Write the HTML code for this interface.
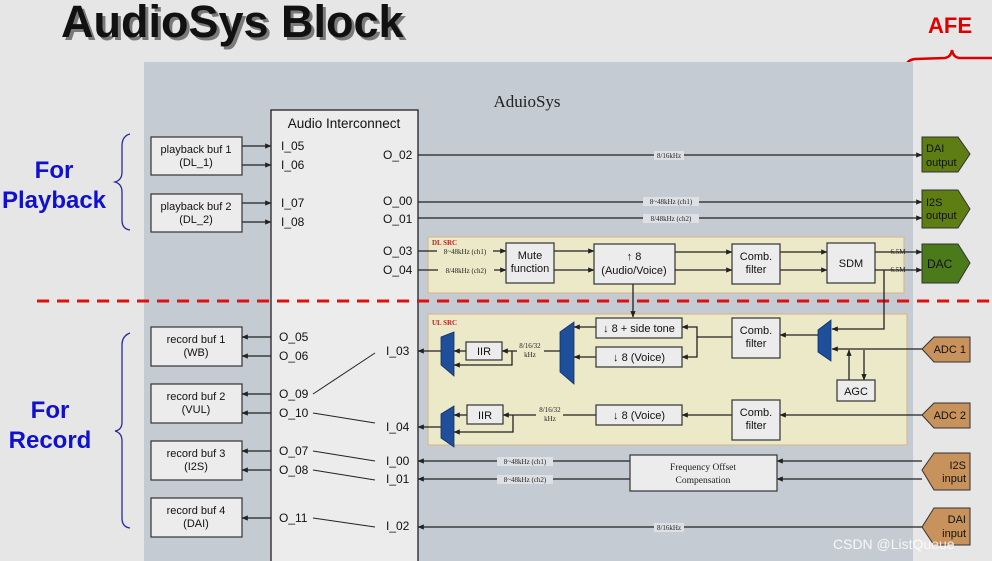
<!DOCTYPE html>
<html><head><meta charset="utf-8"><style>
html,body{margin:0;padding:0;background:#e6e6e6;}
svg{display:block;}
.s{font-family:"Liberation Sans",sans-serif;fill:#111;}
.r{font-family:"Liberation Serif",serif;fill:#222;}
</style></head><body>
<svg width="992" height="561" viewBox="0 0 992 561" xmlns="http://www.w3.org/2000/svg">
<defs>
<marker id="a" viewBox="0 0 10 10" refX="9" refY="5" markerWidth="5" markerHeight="5" orient="auto"><path d="M0,1 L10,5 L0,9 z" fill="#222"/></marker>
</defs>
<rect width="992" height="561" fill="#e6e6e6"/>
<text x="64" y="40" class="s" font-size="45" font-weight="bold" fill="#555" opacity="0.5">AudioSys Block</text>
<text x="61" y="37" class="s" font-size="45" font-weight="bold" fill="#111">AudioSys Block</text>
<text x="928" y="33" class="s" font-size="22" font-weight="bold" fill="#e00000" style="fill:#e00000">AFE</text>
<path d="M906,68 Q906,60 915,59 L945,58 Q951,57 952,50 Q953,57 959,58 L992,58" fill="none" stroke="#d00" stroke-width="2.5"/>
<rect x="144" y="62" width="769" height="499" fill="#c4cbd3"/>
<text x="527" y="107" class="r" font-size="17" text-anchor="middle">AduioSys</text>
<rect x="271" y="110" width="147" height="460" fill="#ececec" stroke="#222" stroke-width="1.3"/>
<text x="344" y="128" class="s" font-size="13.5" text-anchor="middle">Audio Interconnect</text>
<g class="s" font-size="24" font-weight="bold" text-anchor="middle">
<text x="54" y="178" style="fill:#1010d0">For</text><text x="54" y="208" style="fill:#1010d0">Playback</text>
<text x="50" y="418" style="fill:#1010d0">For</text><text x="50" y="448" style="fill:#1010d0">Record</text>
</g>
<g fill="none" stroke="#2a2aa0" stroke-width="1.3">
<path d="M130,134 Q122,136 122,146 L122,172 Q122,180 115,182 Q122,184 122,192 L122,220 Q122,229 130,230"/>
<path d="M130,333 Q122,336 122,345 L122,422 Q122,430 115,431 Q122,433 122,441 L122,518 Q122,527 130,528"/>
</g>
<g fill="#ececec" stroke="#333" stroke-width="1.2">
<rect x="151" y="137" width="91" height="38"/><rect x="151" y="194" width="91" height="38"/>
<rect x="151" y="327" width="91" height="39"/><rect x="151" y="384" width="91" height="39"/>
<rect x="151" y="441" width="91" height="39"/><rect x="151" y="498" width="91" height="39"/>
</g>
<g class="s" font-size="11" text-anchor="middle">
<text x="196" y="153">playback buf 1</text><text x="196" y="166">(DL_1)</text>
<text x="196" y="210">playback buf 2</text><text x="196" y="223">(DL_2)</text>
<text x="196" y="343">record buf 1</text><text x="196" y="356">(WB)</text>
<text x="196" y="400">record buf 2</text><text x="196" y="413">(VUL)</text>
<text x="196" y="457">record buf 3</text><text x="196" y="470">(I2S)</text>
<text x="196" y="514">record buf 4</text><text x="196" y="527">(DAI)</text>
</g>
<g stroke="#222" stroke-width="1.3" marker-end="url(#a)">
<line x1="242" y1="146" x2="271" y2="146"/><line x1="242" y1="165" x2="271" y2="165"/>
<line x1="242" y1="203" x2="271" y2="203"/><line x1="242" y1="222" x2="271" y2="222"/>
<line x1="271" y1="337" x2="242" y2="337"/><line x1="271" y1="356" x2="242" y2="356"/>
<line x1="271" y1="394" x2="242" y2="394"/><line x1="271" y1="413" x2="242" y2="413"/>
<line x1="271" y1="451" x2="242" y2="451"/><line x1="271" y1="470" x2="242" y2="470"/>
<line x1="271" y1="518" x2="242" y2="518"/>
</g>
<g class="s" font-size="12">
<text x="281" y="150">I_05</text><text x="281" y="169">I_06</text><text x="281" y="207">I_07</text><text x="281" y="226">I_08</text>
<text x="279" y="341">O_05</text><text x="279" y="360">O_06</text><text x="279" y="398">O_09</text><text x="279" y="417">O_10</text>
<text x="279" y="455">O_07</text><text x="279" y="474">O_08</text><text x="279" y="522">O_11</text>
<text x="383" y="159">O_02</text><text x="383" y="205">O_00</text><text x="383" y="223">O_01</text>
<text x="383" y="255">O_03</text><text x="383" y="274">O_04</text>
<text x="386" y="355">I_03</text><text x="386" y="431">I_04</text><text x="386" y="465">I_00</text><text x="386" y="483">I_01</text><text x="386" y="530">I_02</text>
</g>
<g stroke="#222" stroke-width="1">
<line x1="313" y1="394" x2="375" y2="353"/><line x1="313" y1="413" x2="375" y2="423"/>
<line x1="313" y1="451" x2="375" y2="461"/><line x1="313" y1="470" x2="375" y2="480"/>
<line x1="313" y1="518" x2="375" y2="527"/>
</g>
<rect x="428" y="237" width="476" height="56" fill="#ece9c8" stroke="#d9b890" stroke-width="1.2"/>
<rect x="428" y="314" width="479" height="131" fill="#ece9c8" stroke="#d9b890" stroke-width="1.2"/>
<text x="432" y="245" class="r" font-size="7" font-weight="bold" style="fill:#c02020">DL SRC</text>
<text x="432" y="325" class="r" font-size="7" font-weight="bold" style="fill:#c02020">UL SRC</text>
<line x1="37" y1="301" x2="992" y2="301" stroke="#e01010" stroke-width="3" stroke-dasharray="12,8"/>
<g stroke="#222" stroke-width="1.3" marker-end="url(#a)" fill="none">
<line x1="418" y1="155" x2="922" y2="155"/>
<line x1="418" y1="202" x2="922" y2="202"/><line x1="418" y1="218" x2="922" y2="218"/>
<line x1="418" y1="251" x2="506" y2="251"/><line x1="418" y1="270" x2="506" y2="270"/>
<line x1="554" y1="251" x2="594" y2="251"/><line x1="554" y1="270" x2="594" y2="270"/>
<line x1="675" y1="252" x2="732" y2="252"/><line x1="675" y1="270" x2="732" y2="270"/>
<line x1="780" y1="252" x2="827" y2="252"/><line x1="780" y1="270" x2="827" y2="270"/>
<line x1="875" y1="252" x2="922" y2="252"/><line x1="875" y1="270" x2="922" y2="270"/>
<line x1="633" y1="282" x2="633" y2="317"/>
<path d="M884,270 L884,329 L832,329"/>
<line x1="922" y1="349" x2="832" y2="349"/>
<line x1="818" y1="335" x2="780" y2="335"/>
<path d="M732,337 L697,337 L697,327 L682,327"/>
<path d="M697,337 L697,357 L682,357"/>
<line x1="596" y1="327" x2="574" y2="327"/><line x1="596" y1="357" x2="574" y2="357"/>
<line x1="560" y1="351" x2="502" y2="351"/>
<path d="M512,351 L512,365 L454,365"/>
<line x1="466" y1="351" x2="454" y2="351"/>
<line x1="441" y1="351" x2="418" y2="351"/>
<line x1="849" y1="380" x2="849" y2="350"/><line x1="864" y1="350" x2="864" y2="380"/>
<line x1="922" y1="415" x2="780" y2="415"/>
<line x1="732" y1="415" x2="682" y2="415"/>
<line x1="596" y1="415" x2="503" y2="415"/>
<path d="M513,415 L513,432 L454,432"/>
<line x1="467" y1="415" x2="454" y2="415"/>
<line x1="441" y1="427" x2="418" y2="427"/>
<line x1="922" y1="461" x2="777" y2="461"/><line x1="922" y1="479" x2="777" y2="479"/>
<line x1="630" y1="461" x2="418" y2="461"/><line x1="630" y1="479" x2="418" y2="479"/>
<line x1="922" y1="527" x2="418" y2="527"/>
</g>
<g class="r" font-size="7" text-anchor="middle">
<rect x="654" y="151" width="30" height="9" fill="#dde0e4"/><text x="669" y="158">8/16kHz</text>
<rect x="643" y="197" width="56" height="9" fill="#dde0e4"/><text x="671" y="204">8~48kHz (ch1)</text>
<rect x="643" y="214" width="56" height="9" fill="#dde0e4"/><text x="671" y="221">8/48kHz (ch2)</text>
<rect x="437" y="247" width="56" height="9" fill="#ece9c8"/><text x="465" y="254">8~48kHz (ch1)</text>
<rect x="438" y="266" width="56" height="9" fill="#ece9c8"/><text x="466" y="273">8/48kHz (ch2)</text>
<text x="898" y="254">6.5M</text><text x="898" y="272">6.5M</text>
<rect x="517" y="341" width="27" height="18" fill="#ece9c8"/><text x="530" y="348">8/16/32</text><text x="530" y="357">kHz</text>
<rect x="536" y="405" width="27" height="18" fill="#ece9c8"/><text x="550" y="412">8/16/32</text><text x="550" y="421">kHz</text>
<rect x="497" y="457" width="56" height="9" fill="#dde0e4"/><text x="525" y="464">8~48kHz (ch1)</text>
<rect x="497" y="475" width="56" height="9" fill="#dde0e4"/><text x="525" y="482">8~48kHz (ch2)</text>
<rect x="654" y="523" width="30" height="9" fill="#dde0e4"/><text x="669" y="530">8/16kHz</text>
</g>
<g fill="#ececec" stroke="#333" stroke-width="1.2">
<rect x="506" y="243" width="48" height="40"/>
<rect x="594" y="244" width="81" height="40"/>
<rect x="732" y="244" width="48" height="40"/>
<rect x="827" y="243" width="48" height="40"/>
<rect x="596" y="318" width="86" height="20"/>
<rect x="596" y="347" width="86" height="20"/>
<rect x="732" y="318" width="48" height="40"/>
<rect x="837" y="380" width="38" height="21"/>
<rect x="466" y="342" width="36" height="18"/>
<rect x="467" y="405" width="36" height="19"/>
<rect x="596" y="405" width="86" height="20"/>
<rect x="732" y="400" width="48" height="40"/>
<rect x="630" y="455" width="147" height="36"/>
</g>
<g class="s" font-size="11" text-anchor="middle">
<text x="530" y="259">Mute</text><text x="530" y="272">function</text>
<text x="634" y="260">↑ 8</text><text x="634" y="274">(Audio/Voice)</text>
<text x="756" y="260">Comb.</text><text x="756" y="273">filter</text>
<text x="851" y="267">SDM</text>
<text x="639" y="332">↓ 8  + side tone</text>
<text x="639" y="361">↓    8 (Voice)</text>
<text x="756" y="334">Comb.</text><text x="756" y="347">filter</text>
<text x="856" y="395">AGC</text>
<text x="484" y="355">IIR</text><text x="485" y="419">IIR</text>
<text x="639" y="419">↓    8 (Voice)</text>
<text x="756" y="416">Comb.</text><text x="756" y="429">filter</text>
</g>
<g class="r" font-size="9.5" text-anchor="middle">
<text x="703" y="470">Frequency Offset</text><text x="703" y="483">Compensation</text>
</g>
<g fill="#1f4f9a" stroke="#10306a" stroke-width="0.8">
<polygon points="818,330 831,320 831,361 818,352"/>
<polygon points="560,332 574,322 574,384 560,372"/>
<polygon points="441,337 454,332 454,376 441,365"/>
<polygon points="441,414 454,406 454,447 441,438"/>
</g>
<g stroke="#333" stroke-width="1">
<polygon points="922,137 958,137 970,154 958,172 922,172" fill="#5e7d12"/>
<polygon points="922,190 958,190 970,209 958,228 922,228" fill="#5e7d12"/>
<polygon points="922,244 958,244 970,263 958,283 922,283" fill="#4b7a1a"/>
<polygon points="970,337 934,337 922,349 934,362 970,362" fill="#c8925c"/>
<polygon points="970,403 934,403 922,415 934,428 970,428" fill="#c8925c"/>
<polygon points="970,453 934,453 922,470 934,490 970,490" fill="#c8925c"/>
<polygon points="970,508 934,508 922,527 934,545 970,545" fill="#c8925c"/>
</g>
<g class="s" font-size="11">
<text x="926" y="152">DAI</text><text x="926" y="166">output</text>
<text x="926" y="206">I2S</text><text x="926" y="219">output</text>
<text x="927" y="268" font-size="12">DAC</text>
<text x="966" y="353" text-anchor="end">ADC 1</text>
<text x="966" y="419" text-anchor="end">ADC 2</text>
<text x="966" y="469" text-anchor="end">I2S</text><text x="966" y="482" text-anchor="end">input</text>
<text x="966" y="523" text-anchor="end">DAI</text><text x="966" y="537" text-anchor="end">input</text>
</g>
<text x="833" y="549" class="s" font-size="14" style="fill:#ffffff" opacity="0.85">CSDN @ListQueue</text>
</svg>
</body></html>
